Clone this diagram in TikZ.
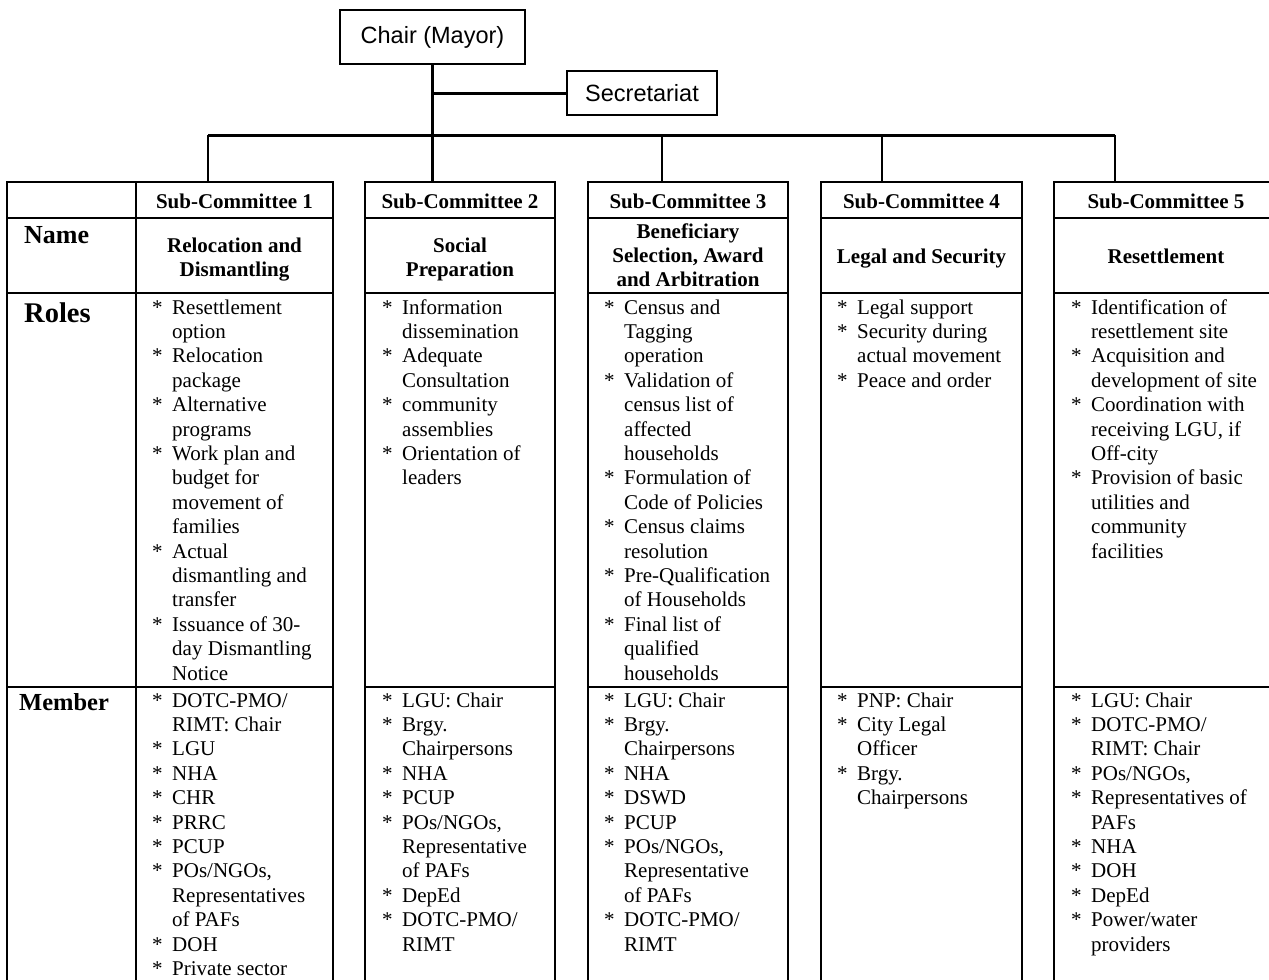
\documentclass[tikz,border=0pt]{standalone}
\usepackage{fontspec}
\setmainfont{Liberation Serif}
\newfontfamily\sansf{Liberation Sans}
\newcommand\itm[1]{\makebox[20bp][l]{*}#1}
\newcommand\cnt[1]{\hspace*{20bp}#1}
\newcommand\bodyfont{\fontsize{21bp}{24.4bp}\selectfont}
\tikzset{
  hdr/.style={anchor=base, inner sep=0pt, font=\bodyfont\bfseries},
  lst/.style={anchor=base west, inner sep=0pt, font=\bodyfont},
  lbl/.style={anchor=base west, inner sep=0pt},
  topbox/.style={draw, line width=1.3bp, inner sep=0pt, font=\sansf\fontsize{23.5bp}{28bp}\selectfont},
  tbl/.style={line width=2.5bp},
  mainconn/.style={line width=3bp},
  dropconn/.style={line width=2.2bp},
}
\begin{document}
\begin{tikzpicture}[x=1bp,y=-1bp]
\useasboundingbox (0,0) rectangle (1269,980);
\clip (0,0) rectangle (1269,980);

% top boxes
\node[topbox, minimum width=185bp, minimum height=54bp] (chair) at (432.5,37) {Chair (Mayor)};
\node[topbox, minimum width=150bp, minimum height=44bp] (sec) at (642,93) {Secretariat};

% table frames
\foreach \L/\R in {7/333, 365/555, 588/788, 821/1022, 1054/1278}{
  \draw[tbl] (\L,1000) -- (\L,182) -- (\R,182) -- (\R,1000);
  \draw[tbl] (\L,218) -- (\R,218);
  \draw[tbl] (\L,293) -- (\R,293);
  \draw[tbl] (\L,687) -- (\R,687);
}
\draw[tbl] (136,182) -- (136,1000);

% connector anchor points
\coordinate (d1) at (208,182);
\coordinate (d2) at (432.5,182);
\coordinate (d3) at (662,182);
\coordinate (d4) at (882,182);
\coordinate (d5) at (1115,182);
\coordinate (b1) at (208,135);
\coordinate (b3) at (662,135);
\coordinate (b4) at (882,135);
\coordinate (b5) at (1115,135);

\draw[mainconn] (chair.south) -- (d2);
\draw[mainconn] (chair.south |- sec.west) -- (sec.west);
\draw[mainconn] (b1) -- (b5);
\draw[dropconn] (b1) -- (d1);
\draw[dropconn] (b3) -- (d3);
\draw[dropconn] (b4) -- (d4);
\draw[dropconn] (b5) -- (d5);

% row labels
\node[lbl, font=\fontsize{26bp}{30bp}\selectfont\bfseries] (lname) at (24,243) {Name};
\node[lbl, font=\fontsize{28.5bp}{32bp}\selectfont\bfseries] (lroles) at (24,322) {Roles};
\node[lbl, font=\fontsize{24.5bp}{28bp}\selectfont\bfseries] (lmember) at (19,710) {Member};

% headers
\node[hdr] (h1) at (234.5,208) {Sub-Committee 1};
\node[hdr] (h2) at (460,208) {Sub-Committee 2};
\node[hdr] (h3) at (688,208) {Sub-Committee 3};
\node[hdr] (h4) at (921.5,208) {Sub-Committee 4};
\node[hdr] (h5) at (1166,208) {Sub-Committee 5};

% names
\node[hdr] (n1) at (234.5,252) {\begin{tabular}[t]{@{}c@{}}Relocation and\\Dismantling\end{tabular}};
\node[hdr] (n2) at (460,252) {\begin{tabular}[t]{@{}c@{}}Social\\Preparation\end{tabular}};
\node[hdr] (n3) at (688,238) {\begin{tabular}[t]{@{}c@{}}Beneficiary\\Selection, Award\\and Arbitration\end{tabular}};
\node[hdr] (n4) at (921.5,263) {Legal and Security};
\node[hdr] (n5) at (1166,263) {Resettlement};

% roles
\node[lst] (r1) at (152,314) {\begin{tabular}[t]{@{}l@{}}
\itm{Resettlement}\\ \cnt{option}\\
\itm{Relocation}\\ \cnt{package}\\
\itm{Alternative}\\ \cnt{programs}\\
\itm{Work plan and}\\ \cnt{budget for}\\ \cnt{movement of}\\ \cnt{families}\\
\itm{Actual}\\ \cnt{dismantling and}\\ \cnt{transfer}\\
\itm{Issuance of 30-}\\ \cnt{day Dismantling}\\ \cnt{Notice}
\end{tabular}};
\node[lst] (r2) at (382,314) {\begin{tabular}[t]{@{}l@{}}
\itm{Information}\\ \cnt{dissemination}\\
\itm{Adequate}\\ \cnt{Consultation}\\
\itm{community}\\ \cnt{assemblies}\\
\itm{Orientation of}\\ \cnt{leaders}
\end{tabular}};
\node[lst] (r3) at (604,314) {\begin{tabular}[t]{@{}l@{}}
\itm{Census and}\\ \cnt{Tagging}\\ \cnt{operation}\\
\itm{Validation of}\\ \cnt{census list of}\\ \cnt{affected}\\ \cnt{households}\\
\itm{Formulation of}\\ \cnt{Code of Policies}\\
\itm{Census claims}\\ \cnt{resolution}\\
\itm{Pre-Qualification}\\ \cnt{of Households}\\
\itm{Final list of}\\ \cnt{qualified}\\ \cnt{households}
\end{tabular}};
\node[lst] (r4) at (837,314) {\begin{tabular}[t]{@{}l@{}}
\itm{Legal support}\\
\itm{Security during}\\ \cnt{actual movement}\\
\itm{Peace and order}
\end{tabular}};
\node[lst] (r5) at (1071,314) {\begin{tabular}[t]{@{}l@{}}
\itm{Identification of}\\ \cnt{resettlement site}\\
\itm{Acquisition and}\\ \cnt{development of site}\\
\itm{Coordination with}\\ \cnt{receiving LGU, if}\\ \cnt{Off-city}\\
\itm{Provision of basic}\\ \cnt{utilities and}\\ \cnt{community}\\ \cnt{facilities}
\end{tabular}};

% members
\node[lst] (m1) at (152,707) {\begin{tabular}[t]{@{}l@{}}
\itm{DOTC-PMO/}\\ \cnt{RIMT: Chair}\\
\itm{LGU}\\ \itm{NHA}\\ \itm{CHR}\\ \itm{PRRC}\\ \itm{PCUP}\\
\itm{POs/NGOs,}\\ \cnt{Representatives}\\ \cnt{of PAFs}\\
\itm{DOH}\\ \itm{Private sector}
\end{tabular}};
\node[lst] (m2) at (382,707) {\begin{tabular}[t]{@{}l@{}}
\itm{LGU: Chair}\\
\itm{Brgy.}\\ \cnt{Chairpersons}\\
\itm{NHA}\\ \itm{PCUP}\\
\itm{POs/NGOs,}\\ \cnt{Representative}\\ \cnt{of PAFs}\\
\itm{DepEd}\\
\itm{DOTC-PMO/}\\ \cnt{RIMT}
\end{tabular}};
\node[lst] (m3) at (604,707) {\begin{tabular}[t]{@{}l@{}}
\itm{LGU: Chair}\\
\itm{Brgy.}\\ \cnt{Chairpersons}\\
\itm{NHA}\\ \itm{DSWD}\\ \itm{PCUP}\\
\itm{POs/NGOs,}\\ \cnt{Representative}\\ \cnt{of PAFs}\\
\itm{DOTC-PMO/}\\ \cnt{RIMT}
\end{tabular}};
\node[lst] (m4) at (837,707) {\begin{tabular}[t]{@{}l@{}}
\itm{PNP: Chair}\\
\itm{City Legal}\\ \cnt{Officer}\\
\itm{Brgy.}\\ \cnt{Chairpersons}
\end{tabular}};
\node[lst] (m5) at (1071,707) {\begin{tabular}[t]{@{}l@{}}
\itm{LGU: Chair}\\
\itm{DOTC-PMO/}\\ \cnt{RIMT: Chair}\\
\itm{POs/NGOs,}\\
\itm{Representatives of}\\ \cnt{PAFs}\\
\itm{NHA}\\ \itm{DOH}\\ \itm{DepEd}\\
\itm{Power/water}\\ \cnt{providers}
\end{tabular}};
\end{tikzpicture}
\end{document}
